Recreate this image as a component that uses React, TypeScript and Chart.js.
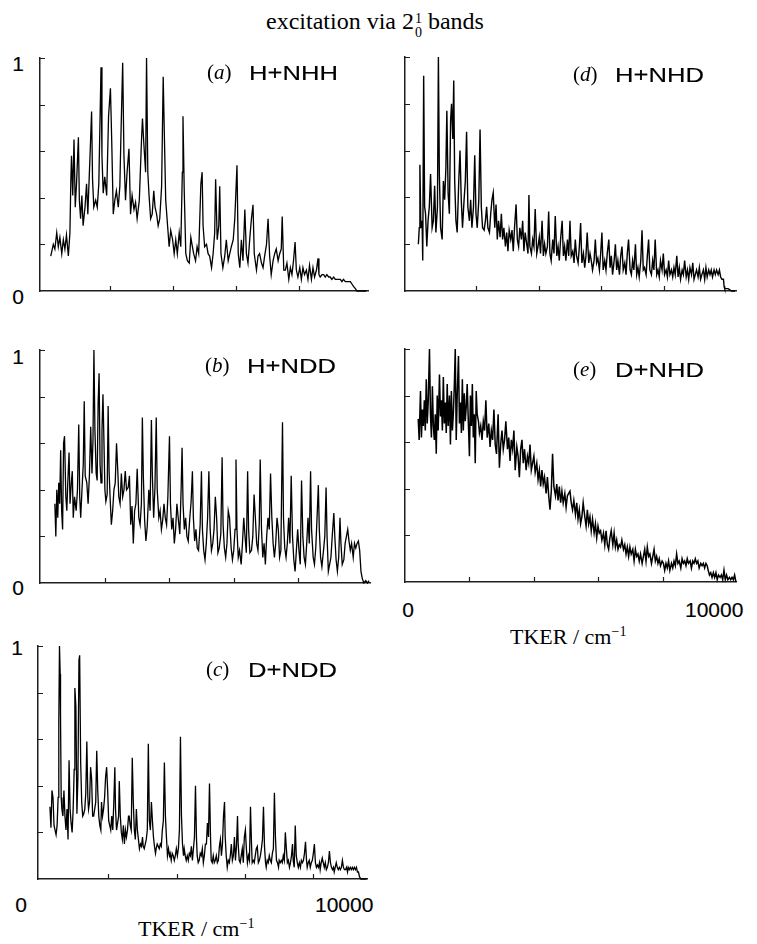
import React, { useEffect, useRef } from "react";
import { Chart, registerables } from "chart.js";

Chart.register(...registerables);

// ---------- tick values (drawn as short inward marks) ----------
const yTickValues = [0.2, 0.4, 0.6, 0.8, 1.0];
const xTickValues = [2000, 4000, 6000, 8000];

// ---------- (a) H+NHH ----------
const aX = [110,190,240,300,350,400,460,510,560,610,670,720,750,770,810,850,890,930,990,1020,1060,1100,1140,1200,1250,1290,1360,1410,1440,1480,1540,1590,1640,1710,1740,1780,1830,1890,1950,2010,2050,2100,2150,2200,2260,2310,2340,2400,2440,2490,2540,2600,2650,2700,2760,2810,2860,2930,2970,3000,3030,3070,3130,3160,3200,3240,3290,3340,3390,3430,3480,3530,3580,3640,3690,3730,3770,3830,3880,3930,3990,4040,4090,4140,4200,4250,4300,4320,4360,4410,4460,4520,4570,4620,4660,4720,4770,4820,4890,4930,4960,5010,5070,5120,5170,5230,5280,5330,5360,5410,5460,5490,5530,5590,5650,5700,5760,5810,5860,5920,5970,6040,6080,6130,6180,6230,6290,6340,6390,6450,6500,6550,6590,6660,6710,6760,6820,6870,6920,6980,7030,7080,7130,7190,7240,7290,7350,7400,7450,7480,7530,7580,7630,7690,7740,7790,7840,7890,7930,7980,8040,8090,8140,8190,8250,8300,8350,8410,8460,8510,8570,8620,8650,8690,8750,8800,8850,8900,8960,9010,9060,9120,9170,9220,9280,9330,9380,9430,9490,9540,9590,9650,9700,9750,9810,9860,10160];
const aY = [0.15,0.20,0.18,0.25,0.19,0.23,0.16,0.22,0.18,0.24,0.15,0.25,0.48,0.58,0.41,0.65,0.36,0.46,0.66,0.39,0.31,0.41,0.28,0.36,0.46,0.33,0.58,0.77,0.48,0.36,0.39,0.36,0.46,0.96,0.58,0.42,0.49,0.41,0.75,0.87,0.65,0.33,0.39,0.43,0.36,0.45,0.64,0.98,0.58,0.39,0.51,0.61,0.33,0.41,0.35,0.38,0.31,0.39,0.54,0.65,0.74,0.64,0.51,1.0,0.51,0.41,0.31,0.33,0.43,0.36,0.33,0.28,0.31,0.45,0.92,0.65,0.39,0.28,0.19,0.26,0.22,0.16,0.22,0.16,0.25,0.19,0.51,0.75,0.43,0.16,0.13,0.12,0.23,0.19,0.16,0.13,0.19,0.16,0.46,0.51,0.28,0.19,0.20,0.16,0.15,0.10,0.16,0.25,0.48,0.22,0.28,0.45,0.16,0.10,0.15,0.22,0.13,0.16,0.19,0.22,0.31,0.54,0.16,0.10,0.22,0.13,0.35,0.16,0.12,0.23,0.31,0.37,0.16,0.09,0.15,0.16,0.12,0.10,0.15,0.20,0.31,0.15,0.07,0.13,0.16,0.18,0.13,0.16,0.18,0.32,0.09,0.09,0.12,0.05,0.10,0.07,0.13,0.21,0.09,0.06,0.10,0.05,0.10,0.07,0.09,0.05,0.11,0.05,0.10,0.06,0.09,0.14,0.07,0.06,0.07,0.07,0.06,0.07,0.06,0.06,0.05,0.06,0.05,0.05,0.05,0.05,0.04,0.05,0.04,0.04,0.04,0.04,0.03,0.02,0.01,0,0];

// ---------- (d) H+NHD ----------
const dX = [160,190,210,240,280,300,330,360,390,430,470,510,550,600,640,680,720,770,800,830,870,920,960,1000,1040,1070,1110,1150,1190,1220,1260,1290,1320,1360,1400,1450,1490,1530,1570,1620,1660,1700,1740,1790,1830,1870,1920,1960,2000,2040,2090,2130,2170,2210,2260,2300,2340,2380,2430,2470,2510,2550,2600,2640,2680,2720,2770,2810,2850,2890,2940,2980,3020,3060,3110,3150,3190,3230,3280,3320,3360,3400,3450,3490,3530,3570,3620,3660,3690,3720,3770,3810,3850,3890,3940,3980,4020,4060,4110,4150,4190,4230,4280,4320,4360,4400,4450,4490,4530,4580,4620,4660,4700,4750,4790,4830,4870,4920,4960,5000,5040,5090,5130,5170,5210,5260,5300,5340,5380,5430,5470,5510,5550,5600,5640,5680,5720,5770,5810,5850,5890,5940,5980,6020,6060,6110,6150,6190,6240,6280,6320,6360,6410,6450,6490,6530,6580,6620,6660,6700,6750,6790,6830,6870,6920,6960,7000,7040,7090,7130,7170,7210,7260,7300,7340,7380,7430,7470,7510,7550,7600,7640,7680,7720,7770,7810,7850,7890,7940,7980,8020,8070,8110,8150,8190,8240,8280,8320,8360,8410,8450,8490,8530,8580,8620,8660,8710,8750,8790,8830,8880,8920,8960,9000,9040,9090,9130,9170,9210,9260,9300,9340,9380,9430,9470,9510,9550,9600,9640,9680,9730,9770,9810,9850,9900,9920,9940,10000,10050,10160,10270];
const dY = [0.20,0.27,0.54,0.27,0.30,0.13,0.92,0.36,0.33,0.19,0.30,0.36,0.50,0.27,0.30,0.45,0.25,0.36,1.0,0.50,0.27,0.22,0.47,0.39,0.53,0.77,0.42,0.33,0.73,0.80,0.65,0.90,0.47,0.30,0.25,0.47,0.60,0.39,0.27,0.39,0.47,0.68,0.36,0.30,0.39,0.27,0.36,0.58,0.33,0.27,0.39,0.69,0.36,0.27,0.26,0.30,0.36,0.27,0.25,0.33,0.39,0.42,0.27,0.37,0.22,0.30,0.23,0.33,0.22,0.27,0.19,0.25,0.17,0.26,0.22,0.26,0.17,0.27,0.37,0.22,0.19,0.27,0.22,0.30,0.17,0.25,0.20,0.16,0.41,0.19,0.16,0.22,0.19,0.35,0.16,0.19,0.23,0.16,0.30,0.15,0.20,0.16,0.19,0.34,0.16,0.13,0.22,0.16,0.32,0.15,0.19,0.13,0.22,0.30,0.15,0.19,0.13,0.22,0.15,0.30,0.15,0.17,0.12,0.22,0.15,0.12,0.19,0.29,0.12,0.16,0.10,0.15,0.25,0.12,0.16,0.13,0.09,0.13,0.22,0.12,0.14,0.09,0.16,0.25,0.09,0.13,0.09,0.16,0.22,0.10,0.15,0.07,0.13,0.20,0.09,0.13,0.07,0.15,0.19,0.09,0.12,0.07,0.16,0.22,0.09,0.07,0.13,0.09,0.20,0.07,0.10,0.06,0.13,0.26,0.09,0.10,0.07,0.15,0.22,0.09,0.07,0.13,0.09,0.22,0.07,0.09,0.06,0.13,0.09,0.16,0.07,0.09,0.06,0.13,0.07,0.09,0.06,0.10,0.07,0.15,0.06,0.10,0.05,0.09,0.07,0.13,0.06,0.09,0.05,0.10,0.07,0.12,0.05,0.07,0.09,0.06,0.10,0.05,0.07,0.09,0.05,0.10,0.06,0.09,0.07,0.09,0.06,0.09,0.07,0.09,0.07,0.09,0.06,0.05,0.05,0.02,0.01,0.01,0.01,0.00,0];

// ---------- (b) H+NDD ----------
const bX = [460,490,520,550,580,610,640,670,700,730,760,800,830,860,900,930,970,1000,1030,1070,1120,1160,1200,1230,1260,1300,1340,1370,1400,1450,1490,1530,1570,1610,1640,1670,1700,1740,1770,1800,1830,1860,1890,1920,1950,1980,2010,2040,2080,2110,2140,2170,2210,2250,2290,2330,2370,2410,2440,2480,2520,2560,2600,2640,2680,2730,2770,2810,2850,2890,2930,2970,3010,3060,3100,3140,3170,3200,3240,3280,3320,3370,3410,3450,3480,3520,3560,3600,3630,3680,3720,3760,3800,3840,3880,3920,3960,4010,4040,4080,4120,4160,4200,4240,4280,4330,4370,4400,4430,4470,4510,4550,4590,4640,4680,4720,4750,4790,4830,4870,4910,4960,5000,5030,5070,5110,5150,5190,5230,5270,5310,5350,5390,5430,5470,5510,5550,5600,5640,5670,5710,5750,5790,5830,5870,5920,5960,6000,6040,6070,6100,6140,6180,6230,6270,6310,6350,6390,6430,6460,6500,6550,6590,6630,6670,6710,6750,6790,6820,6860,6900,6940,6980,7020,7060,7100,7140,7180,7220,7260,7300,7340,7380,7420,7460,7510,7540,7580,7620,7660,7700,7740,7780,7820,7860,7900,7940,7980,8020,8060,8100,8140,8180,8220,8260,8300,8340,8380,8410,8460,8500,8540,8580,8620,8650,8690,8730,8780,8820,8860,8890,8930,8970,9010,9050,9100,9130,9170,9210,9250,9290,9320,9360,9410,9450,9490,9530,9570,9610,9650,9700,9740,9780,9820,9860,9900,9940,9980,10030,10090,10140,10190];
const bY = [0.34,0.20,0.40,0.28,0.43,0.34,0.57,0.31,0.23,0.60,0.63,0.37,0.31,0.43,0.56,0.34,0.43,0.48,0.28,0.37,0.31,0.40,0.68,0.37,0.28,0.40,0.51,0.78,0.46,0.43,0.34,0.46,0.67,0.47,0.61,1.0,0.66,0.47,0.44,0.77,0.90,0.51,0.43,0.66,0.81,0.61,0.40,0.35,0.38,0.76,0.48,0.37,0.25,0.31,0.40,0.43,0.60,0.48,0.37,0.34,0.47,0.37,0.40,0.48,0.40,0.41,0.46,0.25,0.33,0.17,0.31,0.34,0.49,0.28,0.25,0.34,0.71,0.46,0.27,0.18,0.24,0.40,0.31,0.70,0.46,0.28,0.41,0.71,0.40,0.28,0.31,0.23,0.27,0.34,0.28,0.25,0.37,0.63,0.34,0.23,0.28,0.17,0.23,0.34,0.28,0.21,0.40,0.58,0.34,0.23,0.28,0.20,0.18,0.28,0.35,0.48,0.28,0.18,0.23,0.15,0.14,0.25,0.48,0.23,0.14,0.10,0.17,0.28,0.48,0.23,0.14,0.17,0.23,0.37,0.28,0.13,0.15,0.21,0.54,0.25,0.15,0.11,0.17,0.31,0.28,0.15,0.10,0.14,0.23,0.53,0.23,0.11,0.14,0.08,0.17,0.28,0.20,0.13,0.48,0.23,0.13,0.14,0.20,0.38,0.28,0.17,0.14,0.25,0.53,0.23,0.11,0.17,0.08,0.20,0.28,0.23,0.47,0.28,0.17,0.11,0.17,0.28,0.23,0.11,0.14,0.69,0.28,0.15,0.11,0.17,0.28,0.17,0.46,0.20,0.10,0.05,0.14,0.23,0.14,0.08,0.44,0.20,0.11,0.08,0.17,0.28,0.17,0.48,0.23,0.11,0.08,0.15,0.28,0.42,0.23,0.11,0.07,0.14,0.20,0.41,0.20,0.05,0.08,0.11,0.20,0.30,0.20,0.10,0.05,0.11,0.28,0.17,0.08,0.10,0.17,0.20,0.23,0.18,0.14,0.17,0.11,0.17,0.15,0.17,0.18,0.14,0.05,0.02,0,0.01,0,0.01];

// ---------- (e) D+NHD ----------
const eX = [410,440,480,510,540,570,600,630,660,690,720,760,790,820,850,880,910,940,970,1000,1030,1070,1100,1130,1160,1190,1220,1250,1280,1310,1340,1380,1410,1440,1470,1500,1530,1560,1590,1620,1660,1690,1720,1750,1780,1810,1840,1870,1900,1930,1970,2000,2030,2060,2090,2120,2150,2180,2210,2240,2280,2310,2350,2390,2430,2470,2510,2550,2600,2640,2680,2720,2760,2800,2840,2890,2930,2970,3010,3050,3090,3130,3180,3220,3260,3300,3340,3380,3420,3470,3510,3550,3590,3630,3670,3710,3760,3800,3840,3880,3920,3960,4000,4040,4090,4130,4170,4210,4250,4290,4330,4380,4420,4460,4500,4540,4580,4620,4670,4710,4750,4790,4830,4870,4910,4960,5000,5040,5080,5120,5160,5200,5240,5290,5330,5370,5410,5450,5490,5530,5580,5620,5660,5700,5740,5780,5820,5870,5910,5950,5990,6030,6070,6110,6160,6200,6240,6280,6320,6360,6400,6450,6490,6530,6570,6610,6650,6690,6730,6780,6820,6860,6900,6940,6980,7020,7070,7110,7150,7190,7230,7270,7310,7360,7400,7440,7480,7520,7560,7600,7650,7690,7730,7770,7810,7850,7890,7930,7980,8020,8060,8100,8140,8180,8220,8270,8310,8350,8390,8430,8470,8510,8560,8600,8640,8680,8720,8760,8800,8850,8890,8930,8970,9010,9050,9090,9130,9180,9220,9260,9300,9340,9380,9410,9450,9490,9530,9570,9610,9650,9690,9730,9780,9820,9860,9900,9940,9980,10020,10070,10110,10150,10190,10230,10270];
const eY = [0.70,0.61,0.82,0.62,0.74,0.67,0.78,0.65,0.87,0.68,0.77,1.0,0.72,0.62,0.84,0.67,0.61,0.72,0.55,0.80,0.65,0.89,0.71,0.78,0.65,0.88,0.68,0.77,0.64,0.85,0.67,0.80,0.59,0.82,0.65,0.72,0.84,1.0,0.61,0.80,0.97,0.68,0.77,0.64,0.87,0.65,0.81,0.69,0.75,0.85,0.67,0.54,0.80,0.67,0.85,0.62,0.72,0.51,0.82,0.72,0.69,0.64,0.67,0.61,0.69,0.65,0.78,0.62,0.68,0.58,0.65,0.61,0.74,0.59,0.55,0.72,0.49,0.59,0.65,0.57,0.61,0.69,0.57,0.62,0.52,0.61,0.57,0.65,0.48,0.58,0.54,0.45,0.57,0.61,0.51,0.57,0.48,0.54,0.51,0.59,0.48,0.51,0.54,0.47,0.51,0.44,0.48,0.41,0.48,0.42,0.45,0.38,0.45,0.37,0.31,0.39,0.55,0.41,0.37,0.42,0.35,0.41,0.34,0.39,0.34,0.38,0.32,0.37,0.38,0.39,0.34,0.31,0.35,0.29,0.34,0.27,0.31,0.25,0.28,0.34,0.28,0.24,0.31,0.25,0.28,0.22,0.27,0.21,0.25,0.19,0.24,0.21,0.22,0.18,0.21,0.16,0.22,0.16,0.14,0.19,0.22,0.16,0.21,0.15,0.18,0.14,0.16,0.15,0.18,0.14,0.16,0.12,0.15,0.11,0.15,0.12,0.14,0.09,0.14,0.11,0.12,0.09,0.12,0.08,0.11,0.14,0.09,0.15,0.11,0.12,0.08,0.11,0.14,0.09,0.11,0.08,0.10,0.07,0.09,0.08,0.05,0.08,0.06,0.09,0.05,0.08,0.06,0.09,0.07,0.12,0.08,0.09,0.06,0.10,0.08,0.09,0.07,0.10,0.08,0.09,0.06,0.09,0.08,0.10,0.08,0.09,0.06,0.08,0.07,0.08,0.06,0.08,0.07,0.05,0.03,0.04,0.02,0.04,0.02,0.04,0.01,0.03,0.02,0.03,0.01,0.05,0.01,0.03,0.01,0.02,0.01,0.02,0.01,0.03,0.0];

// ---------- (c) D+NDD ----------
const cX = [290,320,350,380,410,440,470,500,530,550,570,590,600,620,640,670,700,730,760,790,820,850,880,910,940,970,1000,1020,1050,1080,1110,1140,1160,1190,1220,1250,1280,1310,1340,1370,1400,1420,1450,1480,1510,1540,1570,1600,1630,1660,1690,1720,1750,1780,1800,1830,1860,1890,1920,1950,1980,2010,2040,2070,2100,2130,2160,2190,2210,2240,2270,2300,2320,2350,2380,2410,2440,2470,2500,2530,2560,2590,2610,2640,2670,2700,2730,2760,2790,2820,2850,2880,2910,2940,2970,3000,3020,3050,3080,3110,3140,3170,3200,3230,3260,3290,3320,3350,3380,3400,3430,3460,3490,3520,3550,3580,3610,3640,3670,3700,3730,3760,3790,3810,3840,3870,3900,3930,3960,3990,4020,4050,4080,4110,4140,4170,4200,4220,4250,4280,4310,4340,4370,4400,4430,4460,4490,4520,4550,4580,4600,4630,4660,4690,4720,4750,4780,4810,4840,4870,4900,4930,4960,4990,5010,5040,5070,5100,5130,5160,5190,5220,5250,5280,5310,5340,5370,5400,5420,5450,5480,5510,5540,5570,5600,5630,5660,5690,5720,5750,5780,5800,5830,5860,5890,5920,5950,5980,6010,6040,6070,6100,6130,6160,6190,6210,6240,6270,6300,6330,6360,6390,6420,6450,6480,6510,6540,6570,6600,6620,6650,6680,6710,6740,6770,6800,6830,6860,6890,6920,6950,6980,7000,7030,7060,7090,7120,7150,7180,7210,7240,7270,7300,7330,7360,7390,7410,7440,7470,7500,7530,7560,7590,7620,7650,7680,7710,7740,7770,7800,7820,7850,7880,7910,7940,7970,8000,8030,8060,8090,8120,8150,8180,8200,8230,8260,8290,8320,8350,8380,8410,8440,8470,8500,8530,8560,8590,8610,8640,8670,8700,8730,8760,8790,8820,8850,8880,8910,8940,8970,9000,9020,9050,9080,9110,9140,9170,9200,9230,9260,9290,9320,9350,9390,9420,9560];
const cY = [0.31,0.22,0.38,0.35,0.23,0.21,0.19,0.23,0.35,0.68,1.0,0.88,0.70,0.35,0.30,0.27,0.38,0.27,0.21,0.30,0.17,0.51,0.30,0.24,0.20,0.30,0.47,0.82,0.74,0.28,0.44,0.94,0.96,0.50,0.33,0.27,0.28,0.30,0.37,0.59,0.35,0.30,0.33,0.48,0.43,0.27,0.27,0.30,0.33,0.55,0.38,0.27,0.23,0.21,0.33,0.27,0.30,0.35,0.44,0.48,0.38,0.25,0.23,0.21,0.27,0.21,0.33,0.48,0.30,0.21,0.24,0.27,0.42,0.27,0.20,0.17,0.23,0.15,0.21,0.18,0.21,0.27,0.27,0.23,0.21,0.52,0.33,0.21,0.17,0.30,0.21,0.17,0.13,0.15,0.14,0.18,0.14,0.13,0.15,0.17,0.21,0.58,0.25,0.21,0.33,0.25,0.18,0.14,0.11,0.13,0.15,0.14,0.13,0.15,0.14,0.21,0.25,0.50,0.27,0.18,0.10,0.13,0.10,0.11,0.08,0.11,0.10,0.08,0.10,0.13,0.10,0.13,0.21,0.61,0.27,0.15,0.10,0.13,0.10,0.08,0.10,0.08,0.11,0.10,0.14,0.08,0.13,0.18,0.40,0.17,0.10,0.07,0.08,0.11,0.10,0.13,0.07,0.10,0.15,0.15,0.24,0.18,0.41,0.18,0.08,0.07,0.10,0.07,0.08,0.10,0.07,0.08,0.14,0.17,0.10,0.15,0.27,0.33,0.18,0.10,0.05,0.08,0.07,0.10,0.15,0.08,0.10,0.18,0.08,0.14,0.27,0.15,0.08,0.07,0.10,0.13,0.07,0.18,0.21,0.13,0.07,0.10,0.08,0.31,0.15,0.07,0.08,0.07,0.10,0.13,0.14,0.07,0.08,0.10,0.13,0.17,0.31,0.14,0.07,0.05,0.08,0.07,0.10,0.08,0.07,0.11,0.13,0.37,0.18,0.08,0.07,0.05,0.08,0.07,0.08,0.07,0.10,0.08,0.20,0.13,0.07,0.08,0.05,0.07,0.10,0.15,0.08,0.05,0.23,0.10,0.07,0.05,0.07,0.05,0.08,0.07,0.08,0.11,0.16,0.08,0.05,0.07,0.08,0.05,0.07,0.08,0.11,0.15,0.07,0.05,0.06,0.05,0.07,0.04,0.07,0.09,0.07,0.05,0.07,0.04,0.05,0.07,0.12,0.07,0.05,0.04,0.05,0.03,0.05,0.07,0.05,0.04,0.05,0.04,0.05,0.08,0.05,0.04,0.04,0.05,0.03,0.05,0.04,0.05,0.04,0.05,0.04,0.05,0.04,0.05,0.03,0.03,0.01,0.0,0,0];

// ---------- rendering ----------
const SERIF = '"Liberation Serif", "Times New Roman", Times, serif';
const SANS = '"Liberation Sans", Arial, Helvetica, sans-serif';
const PAD = 4;
const LINE = "#000000";
const AXIS = "#1e1e1e";

const innerTicks = {
  id: "innerTicks",
  afterDatasetsDraw(chart: any) {
    const { ctx, chartArea, scales } = chart;
    ctx.save();
    ctx.strokeStyle = AXIS;
    ctx.lineWidth = 1.2;
    ctx.beginPath();
    for (const v of yTickValues) {
      const y = Math.round(scales.y.getPixelForValue(v)) + 0.5;
      ctx.moveTo(chartArea.left, y);
      ctx.lineTo(chartArea.left + 5, y);
    }
    for (const v of xTickValues) {
      const x = Math.round(scales.x.getPixelForValue(v)) + 0.5;
      ctx.moveTo(x, chartArea.bottom);
      ctx.lineTo(x, chartArea.bottom - 5);
    }
    ctx.stroke();
    ctx.restore();
  },
};

type PanelProps = {
  xs: number[];
  ys: number[];
  xMin: number;
  xMax: number;
  left: number;
  top: number;
  width: number;
  height: number;
  lineWidth: number;
};

function Panel({ xs, ys, xMin, xMax, left, top, width, height, lineWidth }: PanelProps) {
  const ref = useRef<HTMLCanvasElement>(null);
  useEffect(() => {
    const n = Math.min(xs.length, ys.length);
    const pts: { x: number; y: number }[] = [];
    for (let i = 0; i < n; i++) pts.push({ x: xs[i], y: ys[i] });
    const chart = new Chart(ref.current as HTMLCanvasElement, {
      type: "line",
      data: {
        datasets: [
          {
            data: pts,
            borderColor: LINE,
            borderWidth: lineWidth,
            pointRadius: 0,
            tension: 0,
            fill: false,
            clip: 8,
          } as any,
        ],
      },
      options: {
        animation: false,
        responsive: false,
        maintainAspectRatio: false,
        events: [],
        layout: { padding: PAD },
        plugins: {
          legend: { display: false },
          tooltip: { enabled: false },
          title: { display: false },
        },
        scales: {
          x: {
            type: "linear",
            min: xMin,
            max: xMax,
            ticks: { display: false },
            grid: { display: false, drawTicks: false },
            border: { display: true, color: AXIS, width: 1.5 },
            afterFit: (s: any) => {
              s.height = 0;
            },
          },
          y: {
            type: "linear",
            min: 0,
            max: 1,
            ticks: { display: false },
            grid: { display: false, drawTicks: false },
            border: { display: true, color: AXIS, width: 1.5 },
            afterFit: (s: any) => {
              s.width = 0;
            },
          },
        },
      } as any,
      plugins: [innerTicks],
    });
    return () => chart.destroy();
  }, []);
  return (
    <canvas
      ref={ref}
      width={width}
      height={height}
      style={{ position: "absolute", left, top, width, height }}
    />
  );
}

// text placed by its baseline
function Txt({
  x,
  baseline,
  size,
  family,
  children,
  width,
  align,
  scaleX,
}: {
  x: number;
  baseline: number;
  size: number;
  family: string;
  children: React.ReactNode;
  width?: number;
  align?: "left" | "center";
  scaleX?: number;
}) {
  const isSans = family === SANS;
  const k = isSans ? 0.8465 : 0.8375;
  const top = baseline - k * size;
  return (
    <div
      style={{
        position: "absolute",
        left: width ? x - (align === "center" ? width / 2 : 0) : x,
        top,
        width: width,
        textAlign: align || "left",
        fontFamily: family,
        fontSize: size,
        lineHeight: 1,
        whiteSpace: "nowrap",
        color: "#000",
        WebkitTextStroke: isSans ? "0.15px #000" : undefined,
        transform: scaleX ? `scaleX(${scaleX})` : undefined,
        transformOrigin: "left top",
      }}
    >
      {children}
    </div>
  );
}

function PanelLabel({ x, baseline, letter, name }: { x: number; baseline: number; letter: string; name: string }) {
  return (
    <>
      <Txt x={x} baseline={baseline} size={21} family={SERIF}>
        (<i>{letter}</i>)
      </Txt>
      <Txt x={x + 42} baseline={baseline} size={20} family={SANS} scaleX={1.28}>
        {name}
      </Txt>
    </>
  );
}

function AxisTitle({ x, baseline }: { x: number; baseline: number }) {
  return (
    <Txt x={x} baseline={baseline} size={22} family={SERIF}>
      TKER / cm
      <span style={{ fontSize: "0.64em", verticalAlign: "0.55em" }}>−1</span>
    </Txt>
  );
}

export default function App() {
  return (
    <div
      style={{
        position: "absolute",
        left: 0,
        top: 0,
        width: 757,
        height: 944,
        background: "#fff",
        overflow: "hidden",
      }}
    >
      {/* title */}
      <div
        style={{
          position: "absolute",
          left: 0,
          width: 750,
          top: 29 - 0.8375 * 24,
          textAlign: "center",
          fontFamily: SERIF,
          fontSize: 24,
          lineHeight: 1,
          color: "#000",
          whiteSpace: "nowrap",
        }}
      >
        excitation via 2
        <span
          style={{
            display: "inline-block",
            fontSize: 14,
            lineHeight: "14px",
            verticalAlign: -8,
            textAlign: "left",
            marginLeft: 1,
          }}
        >
          1
          <br />0
        </span>{" "}
        bands
      </div>

      <Panel xs={aX} ys={aY} xMin={-233} xMax={10212} left={36} top={54} width={336} height={241} lineWidth={1.3} />
      <Panel xs={dX} ys={dY} xMin={-266} xMax={10300} left={401} top={53} width={339} height={242} lineWidth={1.4} />
      <Panel xs={bX} ys={bY} xMin={0} xMax={10220} left={36} top={346} width={338} height={241} lineWidth={1.3} />
      <Panel xs={eX} ys={eY} xMin={0} xMax={10273} left={401} top={345} width={339} height={241} lineWidth={1.5} />
      <Panel xs={cX} ys={cY} xMin={-59} xMax={9570} left={34} top={642} width={337} height={241} lineWidth={1.3} />

      {/* panel labels */}
      <PanelLabel x={207} baseline={80} letter="a" name="H+NHH" />
      <PanelLabel x={573} baseline={82} letter="d" name="H+NHD" />
      <PanelLabel x={205} baseline={373} letter="b" name="H+NDD" />
      <PanelLabel x={573} baseline={377} letter="e" name="D+NHD" />
      <PanelLabel x={206} baseline={677} letter="c" name="D+NDD" />

      {/* y tick labels */}
      <Txt x={18} baseline={71} size={21} family={SANS} width={24} align="center">1</Txt>
      <Txt x={18} baseline={304} size={21} family={SANS} width={24} align="center">0</Txt>
      <Txt x={18} baseline={364} size={21} family={SANS} width={24} align="center">1</Txt>
      <Txt x={18} baseline={595} size={21} family={SANS} width={24} align="center">0</Txt>
      <Txt x={17} baseline={655} size={21} family={SANS} width={24} align="center">1</Txt>

      {/* x tick labels */}
      <Txt x={21} baseline={912} size={21} family={SANS} width={24} align="center">0</Txt>
      <Txt x={315} baseline={912} size={21} family={SANS}>10000</Txt>
      <Txt x={408} baseline={617} size={21} family={SANS} width={24} align="center">0</Txt>
      <Txt x={685} baseline={617} size={21} family={SANS}>10000</Txt>

      {/* x axis titles */}
      <AxisTitle x={510} baseline={642} />
      <AxisTitle x={138} baseline={934} />
    </div>
  );
}
